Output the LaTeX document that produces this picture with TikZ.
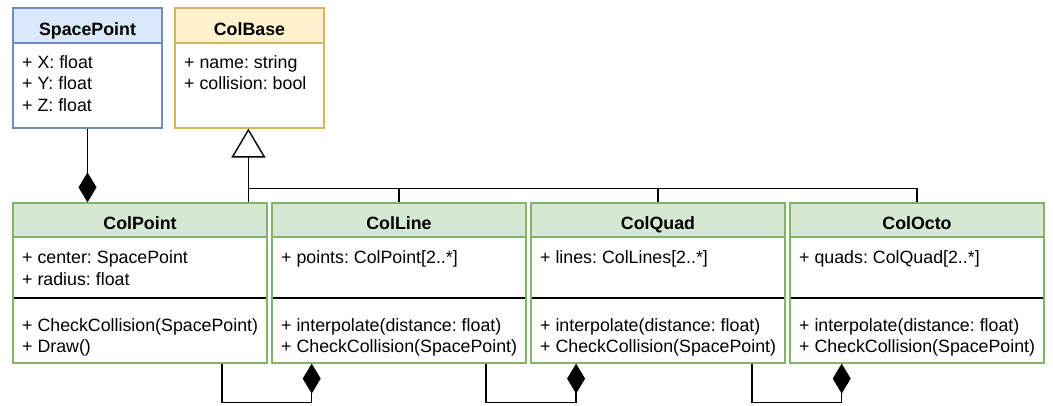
\documentclass[tikz,border=0pt]{standalone}
\usepackage{fontspec}
\setmainfont{Liberation Sans}
\usetikzlibrary{arrows.meta}
\frenchspacing
\definecolor{spF}{HTML}{DAE8FC}
\definecolor{spS}{HTML}{6C8EBF}
\definecolor{cbF}{HTML}{FFF2CC}
\definecolor{cbS}{HTML}{D6B656}
\definecolor{gF}{HTML}{D5E8D4}
\definecolor{gS}{HTML}{82B366}
\tikzset{
  box/.style={draw, line width=1.2pt, inner sep=0pt, fill=none},
  title/.style={anchor=base, font=\fontsize{17.8}{21}\selectfont\bfseries, inner sep=0pt},
  attr/.style={anchor=base west, font=\fontsize{17.8}{21}\selectfont, inner sep=0pt},
  conn/.style={line width=1.4pt, black},
  comp/.style={conn, -{Diamond[length=30pt,width=18pt]}},
  inh/.style={conn, -{Triangle[open,length=29pt,width=34pt,fill=white]}},
}
\begin{document}
\begin{tikzpicture}[x=1pt,y=-1pt]
\useasboundingbox (0,0) rectangle (1053,405);
% SpacePoint
\fill[spF] (13,8) rectangle (162,43);
\draw[spS, line width=1.2pt] (13,43) -- (162,43);
\node[box, draw=spS, minimum width=149pt, minimum height=120pt] (sp) at (87.5,68) {};
\node[title] (spt) at (87.5,35) {SpacePoint};
\node[attr] (sp1) at (22,68) {+ X: float};
\node[attr] (sp2) at (22,89.5) {+ Y: float};
\node[attr] (sp3) at (22,111) {+ Z: float};
% ColBase
\fill[cbF] (175,8) rectangle (324,43);
\draw[cbS, line width=1.2pt] (175,43) -- (324,43);
\node[box, draw=cbS, minimum width=149pt, minimum height=120pt] (cb) at (249.5,68) {};
\node[title] (cbt) at (249.5,35) {ColBase};
\node[attr] (cb1) at (184,68) {+ name: string};
\node[attr] (cb2) at (184,89.5) {+ collision: bool};
% ColPoint
\fill[gF] (13,203) rectangle (267,237);
\draw[gS, line width=1.2pt] (13,237) -- (267,237);
\draw[black, line width=1.2pt] (13,298) -- (267,298);
\node[box, draw=gS, minimum width=254pt, minimum height=160pt] (cp) at (140,283) {};
\node[title] (cpt) at (140,229.5) {ColPoint};
\node[attr] (cp1) at (22,263.5) {+ center: SpacePoint};
\node[attr] (cp2) at (22,285) {+ radius: float};
\node[attr] (cp3) at (22,331.5) {+ CheckCollision(SpacePoint)};
\node[attr] (cp4) at (22,352.5) {+ Draw()};
% ColLine
\fill[gF] (272,203) rectangle (526,237);
\draw[gS, line width=1.2pt] (272,237) -- (526,237);
\draw[black, line width=1.2pt] (272,298) -- (526,298);
\node[box, draw=gS, minimum width=254pt, minimum height=160pt] (cl) at (399,283) {};
\node[title] (clt) at (399,229.5) {ColLine};
\node[attr] (cl1) at (281,263.5) {+ points: ColPoint[2..*]};
\node[attr] (cl2) at (281,331.5) {+ interpolate(distance: float)};
\node[attr] (cl3) at (281,352.5) {+ CheckCollision(SpacePoint)};
% ColQuad
\fill[gF] (531,203) rectangle (785,237);
\draw[gS, line width=1.2pt] (531,237) -- (785,237);
\draw[black, line width=1.2pt] (531,298) -- (785,298);
\node[box, draw=gS, minimum width=254pt, minimum height=160pt] (cq) at (658,283) {};
\node[title] (cqt) at (658,229.5) {ColQuad};
\node[attr] (cq1) at (540,263.5) {+ lines: ColLines[2..*]};
\node[attr] (cq2) at (540,331.5) {+ interpolate(distance: float)};
\node[attr] (cq3) at (540,352.5) {+ CheckCollision(SpacePoint)};
% ColOcto
\fill[gF] (790,203) rectangle (1044,237);
\draw[gS, line width=1.2pt] (790,237) -- (1044,237);
\draw[black, line width=1.2pt] (790,298) -- (1044,298);
\node[box, draw=gS, minimum width=254pt, minimum height=160pt] (co) at (917,283) {};
\node[title] (cot) at (917,229.5) {ColOcto};
\node[attr] (co1) at (799,263.5) {+ quads: ColQuad[2..*]};
\node[attr] (co2) at (799,331.5) {+ interpolate(distance: float)};
\node[attr] (co3) at (799,352.5) {+ CheckCollision(SpacePoint)};
% connectors
\draw[comp] (sp.south) -- (cp.north -| sp.south);
\coordinate (j) at (249,188.3);
\draw[inh] ([xshift=236pt]cp.north west) -- ([xshift=74pt]cb.south west);
\draw[conn] (co.north) |- (j);
\draw[conn] (cl.north) -- (cl.north |- j);
\draw[conn] (cq.north) -- (cq.north |- j);
\draw[comp] ([xshift=209.7pt]cp.south west) -- ++(0,39) -| ([xshift=40.3pt]cl.south west);
\draw[comp] ([xshift=214.7pt]cl.south west) -- ++(0,39) -| ([xshift=45.7pt]cq.south west);
\draw[comp] ([xshift=221.7pt]cq.south west) -- ++(0,39) -| ([xshift=52.3pt]co.south west);
\end{tikzpicture}
\end{document}
